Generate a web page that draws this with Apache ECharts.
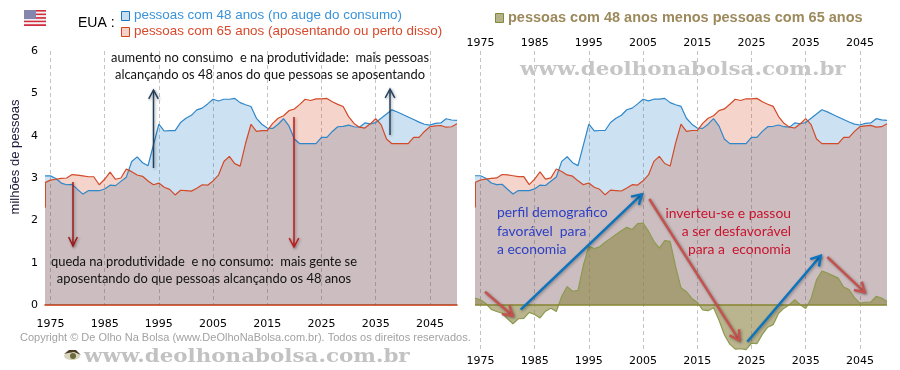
<!DOCTYPE html>
<html>
<head>
<meta charset="utf-8">
<title>pessoas com 48 anos x pessoas com 65 anos</title>
<style>
  html, body { margin: 0; padding: 0; background: #fff; }
  #chart { width: 900px; height: 370px; }
</style>
<script src="https://cdn.jsdelivr.net/npm/echarts@6/dist/echarts.min.js"></script>
</head>
<body>
<div id="chart"></div>
<script>
// years 1974..2050, values in millions of people
const years = [
  '1974', '1975', '1976', '1977', '1978', '1979', '1980', '1981', '1982', '1983', '1984',
  '1985', '1986', '1987', '1988', '1989', '1990', '1991', '1992', '1993', '1994',
  '1995', '1996', '1997', '1998', '1999', '2000', '2001', '2002', '2003', '2004',
  '2005', '2006', '2007', '2008', '2009', '2010', '2011', '2012', '2013', '2014',
  '2015', '2016', '2017', '2018', '2019', '2020', '2021', '2022', '2023', '2024',
  '2025', '2026', '2027', '2028', '2029', '2030', '2031', '2032', '2033', '2034',
  '2035', '2036', '2037', '2038', '2039', '2040', '2041', '2042', '2043', '2044',
  '2045', '2046', '2047', '2048', '2049', '2050'
];
const people48 = [
  3.05, 3.05, 2.99, 2.88, 2.84, 2.85, 2.73, 2.62, 2.70, 2.70, 2.70,
  2.74, 2.83, 2.82, 2.92, 3.02, 3.39, 3.50, 3.36, 3.29, 3.78,
  4.27, 4.11, 4.12, 4.12, 4.31, 4.41, 4.48, 4.61, 4.65, 4.75,
  4.86, 4.82, 4.86, 4.86, 4.88, 4.78, 4.73, 4.69, 4.41, 4.27,
  4.18, 4.17, 4.27, 4.40, 4.23, 3.92, 3.81, 3.81, 3.81, 3.81,
  3.96, 3.96, 4.10, 4.21, 4.22, 4.25, 4.21, 4.20, 4.30, 4.28,
  4.31, 4.41, 4.51, 4.61, 4.56, 4.50, 4.44, 4.38, 4.32, 4.27,
  4.25, 4.29, 4.30, 4.40, 4.37, 4.36
];
const people65 = [
  2.89, 2.95, 2.97, 2.99, 3.00, 3.08, 3.07, 3.05, 3.03, 3.03, 2.84,
  2.97, 3.14, 2.97, 3.00, 3.21, 3.15, 3.07, 3.04, 2.93, 2.84,
  2.88, 2.78, 2.73, 2.60, 2.71, 2.70, 2.69, 2.76, 2.84, 2.83,
  2.93, 3.07, 3.39, 3.51, 3.34, 3.28, 3.82, 4.27, 4.10, 4.12,
  4.12, 4.29, 4.41, 4.47, 4.59, 4.63, 4.74, 4.86, 4.83, 4.87,
  4.87, 4.88, 4.80, 4.74, 4.69, 4.45, 4.29, 4.20, 4.18, 4.28,
  4.40, 4.26, 3.92, 3.81, 3.81, 3.81, 3.81, 3.96, 3.96, 4.10,
  4.21, 4.23, 4.24, 4.20, 4.21, 4.28
];
const difference = [
  0.16, 0.12, 0.03, -0.11, -0.16, -0.20, -0.33, -0.45, -0.33, -0.32, -0.18,
  -0.23, -0.31, -0.15, -0.08, -0.16, 0.20, 0.43, 0.32, 0.34, 0.94,
  1.38, 1.33, 1.37, 1.48, 1.57, 1.66, 1.75, 1.83, 1.78, 1.92,
  1.93, 1.74, 1.50, 1.34, 1.52, 1.50, 0.91, 0.40, 0.31, 0.15,
  0.06, -0.12, -0.14, -0.07, -0.36, -0.71, -0.93, -1.05, -1.04, -1.06,
  -0.91, -0.92, -0.70, -0.53, -0.47, -0.20, -0.08, 0.00, 0.12, 0.00,
  -0.09, 0.15, 0.59, 0.80, 0.75, 0.69, 0.63, 0.42, 0.36, 0.17,
  0.04, 0.06, 0.06, 0.20, 0.16, 0.08
];
const yTicks = [0, 1, 2, 3, 4, 5, 6];

const BLUE = '#2f87c9';
const RED = '#d24a28';
const TICK_FONT = 'DejaVu Sans';
const NOTE_FONT = 'Lato';
const SANS = 'Liberation Sans';
const SERIF = 'DejaVu Serif';

const isLabelYear = (index, value) => Number(value) % 10 === 5;

function xAxis(gridIndex, position, showLabel, margin) {
  return {
    type: 'category',
    data: years,
    gridIndex,
    position,
    boundaryGap: false,
    axisLine: { show: false, onZero: false },
    axisTick: { show: false },
    axisLabel: {
      show: showLabel,
      interval: isLabelYear,
      color: '#000',
      fontFamily: TICK_FONT,
      fontSize: 11,
      margin
    },
    splitLine: {
      show: position === 'bottom',
      interval: isLabelYear,
      lineStyle: { color: '#c4c4c4', type: [4, 3], width: 1 }
    }
  };
}

function areaSeries(data, color, fill, xAxisIndex, yAxisIndex, name) {
  return {
    name,
    type: 'line',
    data,
    xAxisIndex,
    yAxisIndex,
    symbol: 'none',
    animation: false,
    lineStyle: { color, width: 1.2 },
    itemStyle: { color },
    areaStyle: { color: fill, opacity: 1 }
  };
}

// the red edge that drops from the first point, on both panels
const redEdge = {
  silent: true,
  symbol: 'none',
  animation: false,
  label: { show: false },
  lineStyle: { color: RED, width: 1, type: 'solid' },
  data: [[{ coord: ['1974', 2.89] }, { coord: ['1974', 2.3] }]]
};

const series = [
  areaSeries(people48, BLUE, 'rgba(0,112,192,0.2)', 0, 0, '48 anos'),
  Object.assign(areaSeries(people65, RED, 'rgba(201,45,0,0.204)', 0, 0, '65 anos'), { markLine: redEdge }),
  areaSeries(people48, BLUE, 'rgba(0,112,192,0.2)', 1, 1, '48 anos'),
  Object.assign(areaSeries(people65, RED, 'rgba(201,45,0,0.204)', 1, 1, '65 anos'), { markLine: redEdge }),
  Object.assign(areaSeries(difference, '#8c9a50', 'rgba(145,138,76,0.63)', 1, 1, 'diferença'), {
    markLine: {
      silent: true,
      symbol: 'none',
      animation: false,
      label: { show: false },
      lineStyle: { color: '#868530', width: 1.5, type: 'solid' },
      data: [{ yAxis: 0 }]
    }
  })
];

// annotation helpers, these are drawn over the plot in page pixels
function text(content, x, y, font, fill, align, extra) {
  return Object.assign({
    type: 'text',
    z: 20,
    silent: true,
    x,
    y,
    style: {
      text: content,
      x: 0,
      y: 0,
      font,
      fill,
      textAlign: align || 'center',
      textVerticalAlign: 'middle'
    }
  }, extra || {});
}

function arrow(x1, y1, x2, y2, color, width, headLength, headSpread) {
  const angle = Math.atan2(y2 - y1, x2 - x1);
  const wing = (sign) => [
    x2 - headLength * Math.cos(angle + sign * headSpread),
    y2 - headLength * Math.sin(angle + sign * headSpread)
  ];
  const shadow = { shadowColor: 'rgba(0,0,0,0.35)', shadowBlur: 3, shadowOffsetX: 1, shadowOffsetY: 1 };
  return [
    {
      type: 'line',
      z: 15,
      silent: true,
      shape: { x1, y1, x2, y2 },
      style: Object.assign({ stroke: color, lineWidth: width }, shadow)
    },
    {
      type: 'polyline',
      z: 15,
      silent: true,
      shape: { points: [wing(1), [x2, y2], wing(-1)] },
      style: Object.assign({ stroke: color, lineWidth: width, fill: 'none' }, shadow)
    }
  ];
}

function swatch(x, y, w, h, fill, stroke) {
  return {
    type: 'rect',
    z: 20,
    silent: true,
    shape: { x: x + 0.5, y: y + 0.5, width: w, height: h },
    style: { fill, stroke, lineWidth: 1 }
  };
}

function flag() {
  const parts = [];
  const stripes = 9;
  for (let i = 0; i < stripes; i++) {
    parts.push({
      type: 'rect',
      z: 20,
      silent: true,
      shape: { x: 24, y: 10 + i * 16 / stripes, width: 22, height: 16 / stripes },
      style: { fill: i % 2 ? '#f4f0f2' : '#cf2c3c' }
    });
  }
  parts.push({
    type: 'rect',
    z: 21,
    silent: true,
    shape: { x: 24, y: 10, width: 12, height: 9 },
    style: { fill: '#8486ae' }
  });
  return parts;
}

function eye() {
  return [
    { type: 'ellipse', z: 20, silent: true, shape: { cx: 72, cy: 356, rx: 8, ry: 4 }, style: { fill: '#d8d6c0' } },
    { type: 'circle', z: 21, silent: true, shape: { cx: 73, cy: 356, r: 3 }, style: { fill: '#6d6a3a' } },
    { type: 'polygon', z: 22, silent: true, shape: { points: [[64, 354], [69, 350], [76, 350], [81, 355], [74, 352], [68, 353]] }, style: { fill: '#4a3a22' } }
  ];
}

const noteFont = '12.9px "' + NOTE_FONT + '"';
const sideFont = '13.9px "' + NOTE_FONT + '"';
const markFont = 'bold 19px "' + SERIF + '"';

const graphics = [].concat(
  flag(),
  eye(),
  [
    text('EUA :', 78, 23, '14px "' + SANS + '"', '#000', 'left'),
    swatch(121, 11, 8, 9, '#c9dff0', '#1b78c0'),
    swatch(121, 27, 8, 9, '#f4d2c8', '#d4441a'),
    text('pessoas com 48 anos (no auge do consumo)', 134, 15, '13.4px "' + SANS + '"', '#3a92d8', 'left'),
    text('pessoas com 65 anos (aposentando ou perto disso)', 134, 31, '13.4px "' + SANS + '"', '#d8482a', 'left'),
    swatch(495, 13, 8, 9, '#b5b28a', '#7c8c3c'),
    text('pessoas com 48 anos menos pessoas com 65 anos', 508, 18, 'bold 14.5px "' + SANS + '"', '#9c8a5c', 'left'),
    text('milhões de pessoas', 15, 157, '13px "' + SANS + '"', '#1a1a3a', 'center', { rotation: Math.PI / 2 }),
    text('aumento no consumo  e na produtividade:  mais pessoas', 270, 58, noteFont, '#111'),
    text('alcançando os 48 anos do que pessoas se aposentando', 270, 75, noteFont, '#111'),
    text('queda na produtividade  e no consumo:  mais gente se', 204, 262, noteFont, '#111'),
    text('aposentando do que pessoas alcançando os 48 anos', 204, 279, noteFont, '#111'),
    text('perfil demografico', 497, 213, sideFont, '#2d3fc4', 'left'),
    text('favorável  para', 497, 232, sideFont, '#2d3fc4', 'left'),
    text('a economia', 497, 250, sideFont, '#2d3fc4', 'left'),
    text('inverteu-se e passou', 791, 214, sideFont, '#c8142e', 'right'),
    text('a ser desfavorável', 791, 232, sideFont, '#c8142e', 'right'),
    text('para a  economia', 791, 250, sideFont, '#c8142e', 'right'),
    text('Copyright © De Olho Na Bolsa (www.DeOlhoNaBolsa.com.br). Todos os direitos reservados.', 20, 338, '11px "' + SANS + '"', '#a2a2a2', 'left'),
    text('www.deolhonabolsa.com.br', 84, 357, markFont, '#c2c2c2', 'left', { scaleX: 1.128 }),
    text('www.deolhonabolsa.com.br', 520, 70, markFont, '#c6c6c6', 'left', { scaleX: 1.128 })
  ],
  arrow(153.5, 168, 153.5, 90, '#24405f', 1.5, 10, 0.5),
  arrow(390, 135, 390, 89, '#24405f', 1.5, 10, 0.5),
  arrow(73, 182, 73, 246, '#a01818', 1.5, 10, 0.45),
  arrow(294, 117, 294, 247, '#c01a1a', 1.5, 10, 0.5),
  arrow(485, 291.7, 512.7, 315.7, '#c4534f', 2.5, 11, 0.55),
  arrow(520.7, 309.7, 641.7, 194.3, '#0c74bf', 2.5, 11, 0.55),
  arrow(649.3, 199, 739.3, 340.3, '#c4534f', 2.5, 11, 0.55),
  arrow(747.3, 341.7, 820.7, 255.7, '#0c74bf', 2.5, 11, 0.55),
  arrow(827.3, 257, 864.7, 292.3, '#c4534f', 2.5, 11, 0.55)
);

const option = {
  backgroundColor: '#fff',
  animation: false,
  grid: [
    { left: 45, width: 412, top: 51, height: 254, containLabel: false },
    { left: 475, width: 412, top: 51, height: 300.3, containLabel: false }
  ],
  xAxis: [
    Object.assign(xAxis(0, 'bottom', true, 14), {
      axisLine: { show: true, onZero: true, lineStyle: { color: '#cc3300', width: 1.5 } }
    }),
    xAxis(1, 'bottom', true, 4),
    xAxis(1, 'top', true, 2)
  ],
  yAxis: [
    {
      type: 'value',
      gridIndex: 0,
      min: yTicks[0],
      max: yTicks[yTicks.length - 1],
      interval: 1,
      axisLine: { show: false },
      axisTick: { show: false },
      splitLine: { show: false },
      axisLabel: { color: '#000', fontFamily: TICK_FONT, fontSize: 11, margin: 7 }
    },
    {
      type: 'value',
      gridIndex: 1,
      min: -1.1,
      max: 6,
      show: false,
      splitLine: { show: false }
    }
  ],
  series,
  graphic: graphics
};

const chart = echarts.init(document.getElementById('chart'), null, { renderer: 'canvas' });
chart.setOption(option);
</script>
</body>
</html>
